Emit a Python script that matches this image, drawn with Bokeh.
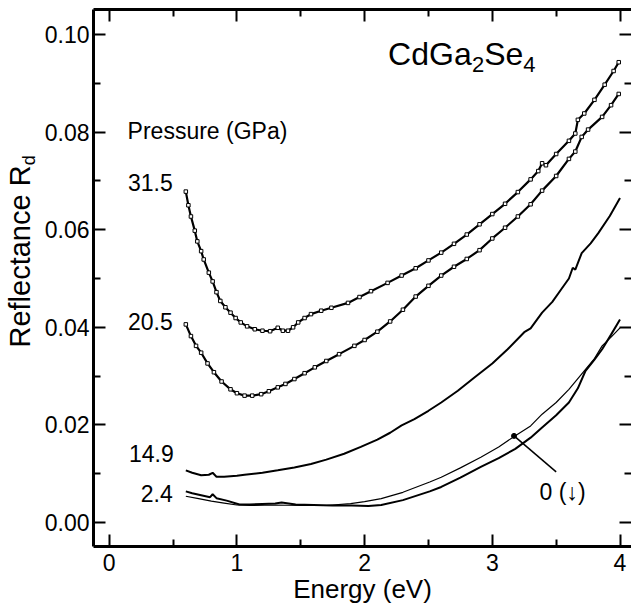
from bokeh.plotting import figure
from bokeh.layouts import row
from bokeh.models import Range1d, LinearAxis, FixedTicker, NumeralTickFormatter
from bokeh.core.properties import value
from bokeh.embed import file_html
from bokeh.resources import INLINE
import math

FONT = "Liberation Sans"

# ---- data (Energy in eV, Reflectance R_d) ----
e_315 = [0.60, 0.62, 0.64, 0.67, 0.69, 0.72, 0.74, 0.78, 0.81, 0.84, 0.87, 0.91, 0.95, 0.99,
         1.03, 1.08, 1.14, 1.20, 1.26, 1.32, 1.36, 1.40, 1.44, 1.48, 1.53, 1.58, 1.66, 1.74,
         1.87, 1.96, 2.05, 2.18, 2.29, 2.40, 2.50, 2.60, 2.70, 2.80, 2.90, 3.00, 3.10, 3.20,
         3.30, 3.36, 3.39, 3.42, 3.50, 3.60, 3.65, 3.67, 3.72, 3.80, 3.88, 3.95, 3.99]
r_315 = [0.0678, 0.0650, 0.0627, 0.0598, 0.0576, 0.0556, 0.0539, 0.0512, 0.0494, 0.0472, 0.0454,
         0.0441, 0.0430, 0.0419, 0.0410, 0.0402, 0.0396, 0.0393, 0.0392, 0.0399, 0.0393, 0.0393,
         0.0400, 0.0410, 0.0419, 0.0427, 0.0434, 0.0440, 0.0450, 0.0462, 0.0474, 0.0491, 0.0506,
         0.0521, 0.0537, 0.0553, 0.0571, 0.0590, 0.0611, 0.0632, 0.0653, 0.0677, 0.0703, 0.0720,
         0.0736, 0.0732, 0.0755, 0.0782, 0.0797, 0.0825, 0.0838, 0.0866, 0.0897, 0.0925, 0.0943]

e_205 = [0.60, 0.64, 0.68, 0.72, 0.77, 0.82, 0.88, 0.95, 1.00, 1.06, 1.12, 1.19, 1.25, 1.32,
         1.38, 1.45, 1.53, 1.61, 1.70, 1.80, 1.92, 2.00, 2.10, 2.20, 2.30, 2.40, 2.50, 2.60,
         2.70, 2.80, 2.90, 3.00, 3.10, 3.20, 3.30, 3.39, 3.50, 3.60, 3.65, 3.70, 3.75, 3.86,
         3.93, 3.99]
r_205 = [0.0406, 0.0382, 0.0362, 0.0348, 0.0326, 0.0308, 0.0289, 0.0273, 0.0265, 0.0260, 0.0260,
         0.0263, 0.0269, 0.0277, 0.0284, 0.0294, 0.0306, 0.0318, 0.0331, 0.0345, 0.0362, 0.0374,
         0.0391, 0.0412, 0.0436, 0.0463, 0.0485, 0.0506, 0.0524, 0.0540, 0.0558, 0.0582, 0.0604,
         0.0627, 0.0652, 0.0680, 0.0710, 0.0745, 0.0760, 0.0790, 0.0805, 0.0831, 0.0855, 0.0878]

e_149 = [0.60, 0.65, 0.72, 0.78, 0.81, 0.84, 0.90, 1.00, 1.06, 1.20, 1.32, 1.45, 1.58, 1.70,
         1.84, 1.97, 2.10, 2.20, 2.29, 2.39, 2.50, 2.60, 2.73, 2.86, 3.00, 3.12, 3.25, 3.30,
         3.39, 3.47, 3.54, 3.60, 3.63, 3.65, 3.70, 3.77, 3.83, 3.92, 4.00]
r_149 = [0.0107, 0.0102, 0.0097, 0.0098, 0.0102, 0.0094, 0.0094, 0.0096, 0.0098, 0.0102, 0.0107,
         0.0113, 0.0120, 0.0129, 0.0141, 0.0155, 0.0170, 0.0184, 0.0199, 0.0212, 0.0229, 0.0246,
         0.0270, 0.0297, 0.0326, 0.0355, 0.0390, 0.0398, 0.0430, 0.0452, 0.0478, 0.0500, 0.0522,
         0.0518, 0.0552, 0.0572, 0.0593, 0.0628, 0.0665]

e_24 = [0.60, 0.65, 0.72, 0.79, 0.81, 0.84, 0.92, 1.02, 1.10, 1.20, 1.30, 1.35, 1.46, 1.60,
        1.75, 1.90, 2.03, 2.13, 2.30, 2.51, 2.60, 2.75, 2.91, 3.05, 3.18, 3.30, 3.39, 3.50,
        3.60, 3.67, 3.73, 3.80, 3.86, 3.93, 4.00]
r_24 = [0.0064, 0.0060, 0.0056, 0.0052, 0.0058, 0.0050, 0.0045, 0.0037, 0.0037, 0.0038, 0.0039,
        0.0041, 0.0037, 0.0036, 0.0035, 0.0035, 0.0034, 0.0036, 0.0046, 0.0064, 0.0073, 0.0092,
        0.0114, 0.0132, 0.0151, 0.0174, 0.0195, 0.0220, 0.0246, 0.0275, 0.0311, 0.0334, 0.0355,
        0.0385, 0.0416]

e_0 = [0.60, 0.70, 0.80, 0.90, 1.00, 1.10, 1.30, 1.50, 1.70, 1.89, 2.00, 2.13, 2.30, 2.51,
       2.60, 2.75, 2.91, 3.05, 3.18, 3.30, 3.39, 3.50, 3.60, 3.73, 3.80, 3.86, 3.93, 4.00]
r_0 = [0.0054, 0.0049, 0.0044, 0.0040, 0.0036, 0.0035, 0.0036, 0.0035, 0.0035, 0.0039, 0.0043,
       0.0049, 0.0062, 0.0083, 0.0093, 0.0112, 0.0134, 0.0155, 0.0178, 0.0198, 0.0222, 0.0246,
       0.0273, 0.0314, 0.0336, 0.0362, 0.0380, 0.0399]

pressure_labels = ["31.5", "20.5", "14.9", "2.4"]
pressure_label_x = [0.498, 0.498, 0.505, 0.498]
pressure_label_y = [0.0696, 0.0412, 0.0141, 0.0059]

arrow_x = [3.17, 3.50]
arrow_y = [0.01776, 0.0104]

x_ticks = [0, 1, 2, 3, 4]
x_minor = [0.5, 1.5, 2.5, 3.5]
y_ticks = [0.00, 0.02, 0.04, 0.06, 0.08, 0.10]
y_minor = [0.01, 0.03, 0.05, 0.07, 0.09]

TOTAL_W, TOTAL_H = 631, 606
STRIP_W = 40

# ---- main figure ----
p = figure(width=TOTAL_W - STRIP_W, height=TOTAL_H,
           x_range=Range1d(-0.123, 4.09), y_range=Range1d(-0.0049, 0.1051),
           output_backend="svg", toolbar_location=None,
           min_border_left=93 - STRIP_W, min_border_top=9, min_border_right=0, min_border_bottom=58)
p.grid.visible = False
p.outline_line_color = None
p.background_fill_color = "white"
p.border_fill_color = "white"


def style_axis(ax, labels=True, line=True):
    ax.major_tick_in = 12
    ax.major_tick_out = 0
    ax.minor_tick_in = 7
    ax.minor_tick_out = 0
    ax.major_tick_line_width = 2
    ax.minor_tick_line_width = 2
    ax.major_tick_line_color = "black"
    ax.minor_tick_line_color = "black"
    ax.axis_line_width = 3 if line else 0
    ax.axis_line_color = "black" if line else None
    ax.major_label_text_font = FONT
    if labels:
        ax.major_label_text_font_size = "23px"
        ax.major_label_text_color = "black"
    else:
        ax.major_label_text_font_size = "1px"
        ax.major_label_text_color = None
        ax.major_label_standoff = 0


xaxis = p.xaxis[0]
xaxis.ticker = FixedTicker(ticks=x_ticks, minor_ticks=x_minor)
xaxis.formatter = NumeralTickFormatter(format="0")
style_axis(xaxis)
xaxis.major_label_standoff = 7
xaxis.axis_label = "Energy (eV)"
xaxis.axis_label_text_font = FONT
xaxis.axis_label_text_font_size = "26px"
xaxis.axis_label_text_font_style = "normal"
xaxis.axis_label_text_color = "black"
xaxis.axis_label_standoff = 0

yaxis = p.yaxis[0]
yaxis.ticker = FixedTicker(ticks=y_ticks, minor_ticks=y_minor)
yaxis.formatter = NumeralTickFormatter(format="0.00")
style_axis(yaxis)
yaxis.major_label_standoff = 4

top = LinearAxis(ticker=FixedTicker(ticks=x_ticks, minor_ticks=x_minor))
style_axis(top, labels=False)
p.add_layout(top, "above")

right = LinearAxis(ticker=FixedTicker(ticks=y_ticks, minor_ticks=y_minor))
style_axis(right, labels=False, line=False)
p.add_layout(right, "right")

# ---- curves ----
p.line(e_315, r_315, line_color="black", line_width=2.2)
p.scatter(e_315, r_315, marker="square", size=3.5, fill_color="white", line_color="black", line_width=1)
p.line(e_205, r_205, line_color="black", line_width=2.2)
p.scatter(e_205, r_205, marker="square", size=3.5, fill_color="white", line_color="black", line_width=1)
p.line(e_149, r_149, line_color="black", line_width=2)
p.line(e_24, r_24, line_color="black", line_width=2)
p.line(e_0, r_0, line_color="black", line_width=1.2)

# pointer for 0 (down)
p.line(arrow_x, arrow_y, line_color="black", line_width=1.5)
p.scatter(arrow_x[:1], arrow_y[:1], marker="circle", size=5, fill_color="black", line_color="black")

# ---- texts ----
p.text(pressure_label_x, pressure_label_y, text=pressure_labels, text_font=value(FONT),
       text_font_size="23px", text_align="right", text_baseline="middle", text_color="black")
p.text([0.144], [0.0802], text=["Pressure (GPa)"], text_font=value(FONT),
       text_font_size="23px", text_align="left", text_baseline="middle", text_color="black")
p.text([3.37], [0.0063], text=["0 (\u2193)"], text_font=value(FONT),
       text_font_size="23px", text_align="left", text_baseline="middle", text_color="black")

# title CdGa2Se4 composed with subscripts
tx0 = 2.184
pxu = 1 / 127.4   # eV per pixel
parts = ["CdGa", "2", "Se", "4"]
sizes = ["32px", "22px", "32px", "22px"]
xs = [tx0, tx0 + 83.6 * pxu, tx0 + 95.8 * pxu, tx0 + 134.9 * pxu]
ys = [0.0959, 0.0939, 0.0959, 0.0939]
for t, sz, xx, yy in zip(parts, sizes, xs, ys):
    p.text([xx], [yy], text=[t], text_font=value(FONT), text_font_size=sz,
           text_align="left", text_baseline="middle", text_color="black")

# ---- left strip holding the rotated y-axis title "Reflectance R_d" ----
s = figure(width=STRIP_W, height=TOTAL_H, x_range=Range1d(0, STRIP_W), y_range=Range1d(TOTAL_H, 0),
           output_backend="svg", toolbar_location=None, title=None,
           x_axis_location=None, y_axis_location=None,
           min_border_left=0, min_border_right=0, min_border_top=0, min_border_bottom=0)
s.grid.visible = False
s.outline_line_color = None
s.background_fill_color = "white"
s.border_fill_color = "white"
k = TOTAL_H / 574.0  # strip frame is shorter than the canvas
s.text([19], [264 * k], text=["Reflectance R"], angle=math.pi / 2,
       text_font=value(FONT), text_font_size="29px", text_align="center",
       text_baseline="middle", text_color="black")
s.text([28], [161 * k], text=["d"], angle=math.pi / 2,
       text_font=value(FONT), text_font_size="18px", text_align="center",
       text_baseline="middle", text_color="black")

layout = row(s, p, spacing=0)
open("out.html", "w").write(file_html(layout, INLINE))
